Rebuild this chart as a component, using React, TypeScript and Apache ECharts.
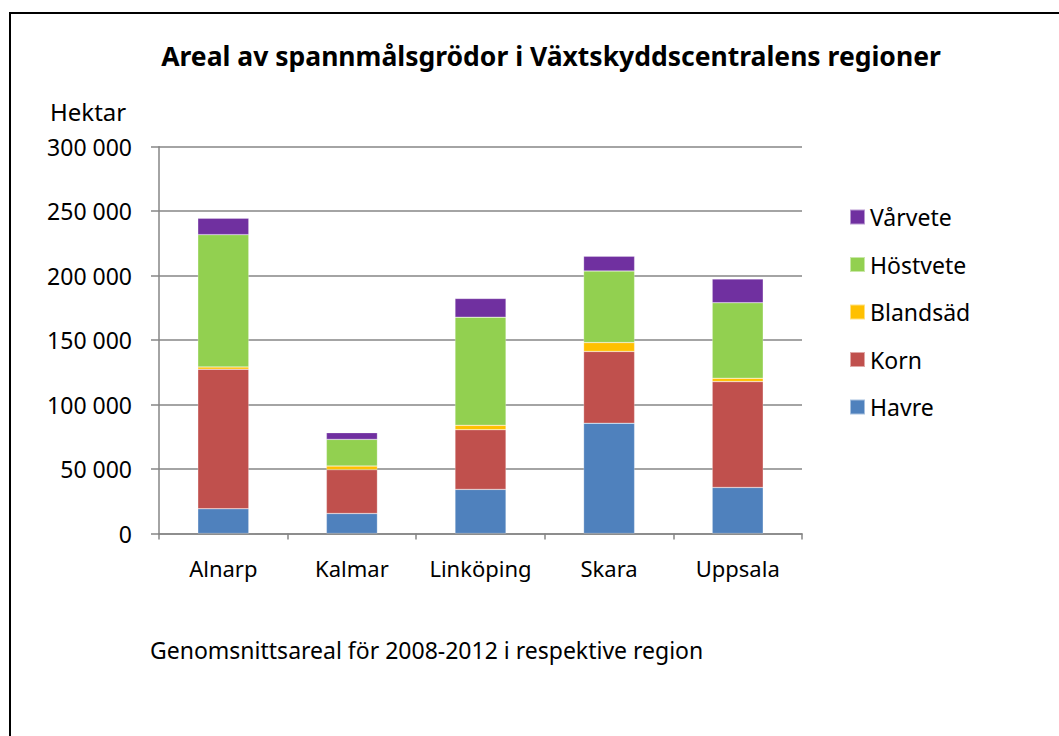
import React, { useEffect, useRef } from "react";
import * as echarts from "echarts";

const categories = ["Alnarp", "Kalmar", "Linköping", "Skara", "Uppsala"];
const havre = [19200, 15500, 34200, 85500, 35700];
const korn = [108200, 34000, 46300, 55700, 82100];
const blandsad = [1800, 2800, 3400, 6900, 2600];
const hostvete = [102600, 20700, 83900, 55500, 58600];
const varvete = [12700, 5200, 14500, 11400, 18400];
const yTicks = [0, 50000, 100000, 150000, 200000, 250000, 300000];

const FONT = "'Noto Sans', 'Open Sans', sans-serif";

function fmt(v: number): string {
  return String(v).replace(/\B(?=(\d{3})+(?!\d))/g, " ");
}

export default function App() {
  const ref = useRef<HTMLDivElement>(null);
  useEffect(() => {
    if (!ref.current) return;
    const chart = echarts.init(ref.current, null, { renderer: "svg" });
    const mk = (name: string, data: number[], color: string) => ({
      name,
      type: "bar",
      stack: "total",
      data,
      barWidth: 51,
      itemStyle: { color, borderColor: "rgba(255,255,255,0.5)", borderWidth: 0.5 },
    });
    chart.setOption({
      animation: false,
      backgroundColor: "#fff",
      textStyle: { fontFamily: FONT },
      grid: { left: 159, top: 146.7, right: 257, bottom: 202.5, containLabel: false },
      xAxis: {
        type: "category",
        data: categories,
        axisLine: { lineStyle: { color: "#868686", width: 1.5 } },
        axisTick: { show: true, length: 6, lineStyle: { color: "#868686", width: 1.5 } },
        axisLabel: { color: "#000", fontSize: 22, margin: 23, interval: 0, hideOverlap: false, fontFamily: FONT },
      },
      yAxis: {
        type: "value",
        min: yTicks[0],
        max: yTicks[yTicks.length - 1],
        interval: 50000,
        axisLine: { show: true, lineStyle: { color: "#868686", width: 1.5 } },
        axisTick: { show: true, length: 8, lineStyle: { color: "#868686", width: 1.5 } },
        splitLine: { lineStyle: { color: "#868686", width: 1.5 } },
        axisLabel: {
          color: "#000",
          fontSize: 23,
          margin: 27,
          fontFamily: FONT,
          formatter: (v: number) => fmt(v),
        },
      },
      legend: {
        orient: "vertical",
        left: 844,
        top: 200,
        itemWidth: 15,
        itemHeight: 15,
        itemGap: 23.5,
        icon: "rect",
        data: ["Vårvete", "Höstvete", "Blandsäd", "Korn", "Havre"],
        textStyle: { color: "#000", fontSize: 23, lineHeight: 24, fontFamily: FONT },
      },
      series: [
        mk("Havre", havre, "#4F81BD"),
        mk("Korn", korn, "#C0504D"),
        mk("Blandsäd", blandsad, "#FFC000"),
        mk("Höstvete", hostvete, "#92D050"),
        mk("Vårvete", varvete, "#7030A0"),
      ],
      graphic: [
        {
          type: "rect",
          shape: { x: 10, y: 13, width: 1200, height: 900 },
          style: { fill: "none", stroke: "#000", lineWidth: 2 },
          silent: true,
        },
        {
          type: "text",
          x: 551,
          y: 56,
          style: {
            text: "Areal av spannmålsgrödor i Växtskyddscentralens regioner",
            fill: "#000",
            font: `bold 26.5px ${FONT}`,
            align: "center",
            verticalAlign: "middle",
          },
        },
        {
          type: "text",
          x: 50,
          y: 111,
          style: { text: "Hektar", fill: "#000", font: `24px ${FONT}`, align: "left", verticalAlign: "middle" },
        },
        {
          type: "text",
          x: 150,
          y: 650,
          style: {
            text: "Genomsnittsareal för 2008-2012 i respektive region",
            fill: "#000",
            font: `23px ${FONT}`,
            align: "left",
            verticalAlign: "middle",
          },
        },
      ],
    });
    return () => chart.dispose();
  }, []);
  return <div ref={ref} style={{ width: 1059, height: 736, position: "absolute", left: 0, top: 0 }} />;
}
